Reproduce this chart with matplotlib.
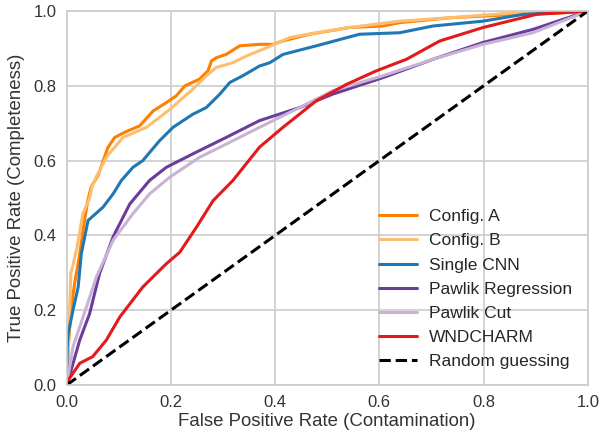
import matplotlib
matplotlib.use("Agg")
import matplotlib.pyplot as plt
import seaborn as sns

sns.set_style("whitegrid")
plt.rcParams['font.family'] = ['Liberation Sans', 'DejaVu Sans']

names = ["Config. A", "Config. B", "Single CNN", "Pawlik Regression", "Pawlik Cut", "WNDCHARM"]
colors = ["#ff7f00", "#fdbf6f", "#1f78b4", "#6a3d9a", "#cab2d6", "#e31a1c"]

fpr_a = [0, 0.003, 0.008, 0.015, 0.025, 0.032, 0.04, 0.047, 0.06, 0.079, 0.092, 0.11, 0.14, 0.166, 0.191,
         0.21, 0.227, 0.255, 0.271, 0.278, 0.287, 0.306, 0.332, 0.37, 0.396, 0.415, 0.466, 0.543, 0.607,
         0.639, 0.735, 0.863, 0.95, 1.0]
tpr_a = [0, 0.1, 0.2, 0.27, 0.35, 0.42, 0.49, 0.53, 0.56, 0.635, 0.662, 0.675, 0.693, 0.733, 0.755,
         0.773, 0.80, 0.818, 0.84, 0.867, 0.875, 0.884, 0.907, 0.911, 0.911, 0.92, 0.938, 0.956, 0.96,
         0.969, 0.982, 0.991, 0.995, 1.0]

fpr_b = [0, 0.003, 0.008, 0.012, 0.02, 0.031, 0.044, 0.05, 0.076, 0.108, 0.153, 0.198, 0.242, 0.268,
         0.287, 0.319, 0.345, 0.377, 0.428, 0.479, 0.543, 0.639, 0.735, 0.863, 0.95, 1.0]
tpr_b = [0, 0.1, 0.3, 0.32, 0.37, 0.458, 0.50, 0.538, 0.609, 0.662, 0.689, 0.737, 0.791, 0.827,
         0.849, 0.862, 0.88, 0.898, 0.929, 0.942, 0.956, 0.973, 0.982, 0.996, 0.998, 1.0]

fpr_c = [0, 0.001, 0.003, 0.012, 0.022, 0.028, 0.041, 0.07, 0.089, 0.105, 0.127, 0.146, 0.178, 0.204,
         0.242, 0.268, 0.294, 0.313, 0.338, 0.37, 0.39, 0.415, 0.479, 0.562, 0.639, 0.703, 0.799, 0.876,
         0.927, 1.0]
tpr_c = [0, 0.1, 0.138, 0.2, 0.262, 0.351, 0.44, 0.476, 0.511, 0.547, 0.582, 0.6, 0.653, 0.689,
         0.724, 0.742, 0.778, 0.809, 0.827, 0.853, 0.862, 0.884, 0.907, 0.938, 0.942, 0.96, 0.973, 0.991,
         0.995, 1.0]

fpr_pr = [0, 0.003, 0.025, 0.044, 0.063, 0.089, 0.121, 0.159, 0.191, 0.242, 0.306, 0.37, 0.447, 0.511,
          0.607, 0.703, 0.799, 0.895, 1.0]
tpr_pr = [0, 0.013, 0.12, 0.191, 0.298, 0.396, 0.484, 0.547, 0.582, 0.618, 0.662, 0.707, 0.742, 0.778,
          0.822, 0.871, 0.916, 0.951, 1.0]

fpr_pc = [0, 0.012, 0.038, 0.057, 0.089, 0.127, 0.159, 0.198, 0.255, 0.306, 0.37, 0.447, 0.511, 0.607,
          0.703, 0.799, 0.895, 1.0]
tpr_pc = [0, 0.102, 0.209, 0.289, 0.387, 0.458, 0.511, 0.556, 0.609, 0.644, 0.689, 0.742, 0.787, 0.827,
          0.871, 0.911, 0.942, 1.0]

fpr_w = [0, 0.003, 0.025, 0.05, 0.076, 0.102, 0.146, 0.191, 0.217, 0.249, 0.281, 0.319, 0.37, 0.415,
         0.479, 0.537, 0.594, 0.652, 0.716, 0.799, 0.901, 1.0]
tpr_w = [0, 0.013, 0.058, 0.076, 0.12, 0.182, 0.262, 0.324, 0.355, 0.422, 0.493, 0.547, 0.636, 0.689,
         0.76, 0.804, 0.84, 0.871, 0.92, 0.956, 0.991, 1.0]

fprs = [fpr_a, fpr_b, fpr_c, fpr_pr, fpr_pc, fpr_w]
tprs = [tpr_a, tpr_b, tpr_c, tpr_pr, tpr_pc, tpr_w]

fig = plt.figure(figsize=(6.01, 4.42), dpi=100)
ax = fig.add_axes([0.111, 0.129, 0.867, 0.846])
for x, y, n, c in zip(fprs, tprs, names, colors):
    ax.plot(x, y, color=c, lw=2.2, label=n)
ax.plot([0, 1], [0, 1], 'k--', lw=2.2, label="Random guessing")
ax.set_xlim(0, 1)
ax.set_ylim(0, 1)
ax.grid(True, color="#cccccc", lw=1.2)
ax.set_xlabel("False Positive Rate (Contamination)", fontsize=13.4, color="#333333", labelpad=2)
ax.set_ylabel("True Positive Rate (Completeness)", fontsize=13.4, color="#333333", labelpad=6)
ax.tick_params(labelsize=12, colors="#333333", pad=4)
for s in ax.spines.values():
    s.set_color("#cccccc")
    s.set_linewidth(1.2)
ax.legend(loc="lower right", frameon=False, fontsize=12.5, handlelength=2.2,
          labelspacing=0.52, borderaxespad=0.5, handletextpad=0.7)
fig.savefig("out.png", dpi=100)
